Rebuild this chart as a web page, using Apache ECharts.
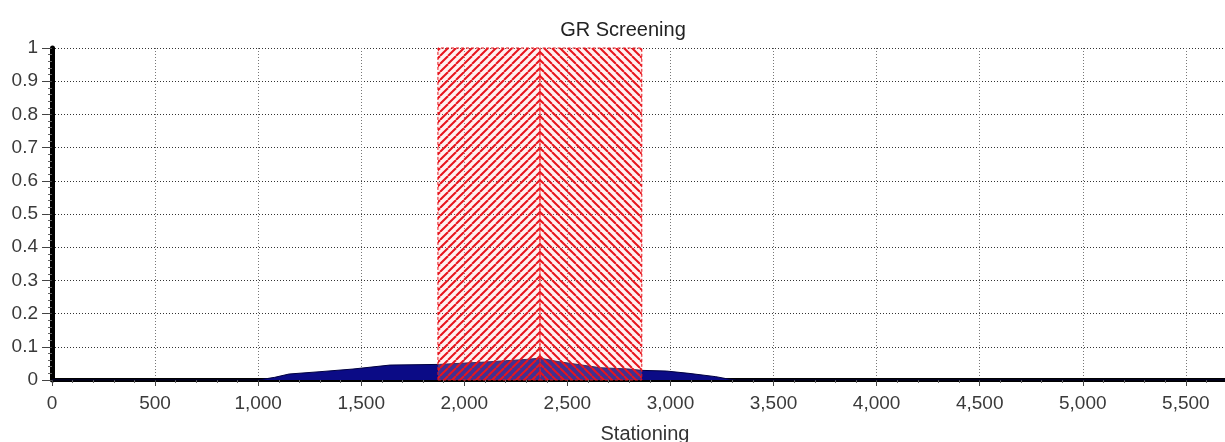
<!DOCTYPE html>
<html>
<head>
<meta charset="utf-8">
<script src="https://cdn.jsdelivr.net/npm/echarts@6/dist/echarts.min.js"></script>
<style>html,body{margin:0;padding:0;background:#fff}#c{width:1225px;height:442px}</style>
</head>
<body>
<div id="c"></div>
<script>
// Data
const stations = [0, 1000, 1080, 1150, 1300, 1460, 1640, 1880, 2000, 2100, 2200, 2300, 2367, 2450, 2560, 2660, 2800, 2860, 2980, 3090, 3220, 3280, 3320, 5690];
const grValues = [0, 0, 0.008, 0.018, 0.025, 0.033, 0.045, 0.047, 0.051, 0.054, 0.058, 0.062, 0.066, 0.056, 0.046, 0.037, 0.033, 0.029, 0.027, 0.02, 0.01, 0.003, 0, 0];
const screenZones = [[1872, 2367], [2367, 2861]];
const xTickLabels = ['0','500','1,000','1,500','2,000','2,500','3,000','3,500','4,000','4,500','5,000','5,500'];
const yTickLabels = ['0','0.1','0.2','0.3','0.4','0.5','0.6','0.7','0.8','0.9','1'];

function hatch(forward) {
  const s = 8;
  const c = document.createElement('canvas');
  c.width = s; c.height = s;
  const g = c.getContext('2d');
  g.fillStyle = 'rgba(255,190,190,0.22)';
  g.fillRect(0, 0, s, s);
  g.strokeStyle = '#e8141c';
  g.lineWidth = 2;
  for (const off of [-s, 0, s]) {
    g.beginPath();
    if (forward) { g.moveTo(off, s); g.lineTo(off + s, 0); }
    else { g.moveTo(off, 0); g.lineTo(off + s, s); }
    g.stroke();
  }
  return c;
}

const chart = echarts.init(document.getElementById('c'), null, {renderer: 'canvas'});
const font = 'Liberation Sans, Arial, sans-serif';
chart.setOption({
  animation: false,
  title: [
    {text: 'GR Screening', left: 618, top: 15, textAlign: 'center',
     textStyle: {fontFamily: font, fontSize: 20, fontWeight: 'normal', color: '#222'}},
    {text: 'Stationing', left: 640, top: 419, textAlign: 'center',
     textStyle: {fontFamily: font, fontSize: 20, fontWeight: 'normal', color: '#333'}}
  ],
  grid: {left: 52, right: 0, top: 48, bottom: 62, containLabel: false},
  xAxis: {
    type: 'value', min: 0, max: 5690, interval: 500,
    axisLine: {lineStyle: {color: '#000', width: 4}},
    axisTick: {show: true, length: 6, lineStyle: {color: '#444'}},
    minorTick: {show: true, splitNumber: 5, length: 3, lineStyle: {color: '#666'}},
    splitLine: {show: true, lineStyle: {color: '#777', type: [1, 2], width: 1}},
    axisLabel: {showMaxLabel: false, margin: 14, fontFamily: font, fontSize: 19, color: '#3a3a3a',
      formatter: v => xTickLabels[Math.round(v / 500)] || ''}
  },
  yAxis: {
    type: 'value', min: 0, max: 1, interval: 0.1,
    axisLine: {show: true, lineStyle: {color: '#000', width: 5}},
    axisTick: {show: true, length: 10, lineStyle: {color: '#444'}},
    minorTick: {show: true, splitNumber: 5, length: 4, lineStyle: {color: '#666'}},
    splitLine: {show: true, lineStyle: {color: '#333', type: [1, 2], width: 1}},
    axisLabel: {margin: 14, fontFamily: font, fontSize: 19, color: '#3a3a3a',
      formatter: v => yTickLabels[Math.round(v * 10)]}
  },
  series: [
    {
      type: 'line', z: 2,
      data: stations.map((s, i) => [s, grValues[i]]),
      symbol: 'none',
      lineStyle: {color: '#000040', width: 1},
      areaStyle: {color: '#0b0b86', opacity: 1}
    },
    {
      type: 'line', z: 5, data: [], symbol: 'none',
      markArea: {
        silent: true, z: 10,
        data: screenZones.map((z, i) => [
          {xAxis: z[0], yAxis: 0, itemStyle: {
            color: {image: hatch(i === 0), repeat: 'repeat'},
            borderColor: '#e8141c', borderWidth: 1, borderType: [3, 2]}},
          {xAxis: z[1], yAxis: 1}
        ])
      }
    }
  ]
});
</script>
</body>
</html>
